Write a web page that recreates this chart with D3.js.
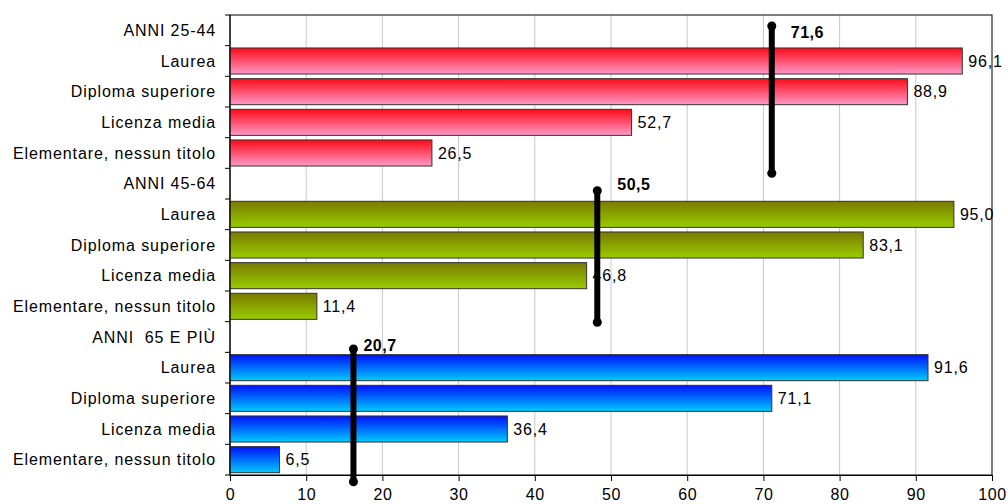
<!DOCTYPE html>
<html><head><meta charset="utf-8">
<script src="https://cdn.jsdelivr.net/npm/d3@7"></script>
<style>body{margin:0;background:#fff}svg{display:block}text{font-family:"Liberation Sans",Arial,sans-serif}</style>
</head><body><svg id="c" width="1008" height="504"></svg>
<script>
const categories = ["ANNI 25-44","Laurea","Diploma superiore","Licenza media","Elementare, nessun titolo",
  "ANNI 45-64","Laurea","Diploma superiore","Licenza media","Elementare, nessun titolo",
  "ANNI  65 E PIÙ","Laurea","Diploma superiore","Licenza media","Elementare, nessun titolo"];
const values = [null,96.1,88.9,52.7,26.5, null,95.0,83.1,46.8,11.4, null,91.6,71.1,36.4,6.5];
const groups = [0,0,0,0,0, 1,1,1,1,1, 2,2,2,2,2];
const xTicks = [0,10,20,30,40,50,60,70,80,90,100];
// average markers: label value, drawn position, vertical extent in row units
const avgLabels = [71.6, 50.5, 20.7];
const avgPos = [71.1, 48.2, 16.2];
const avgFrom = [0.36, 5.73, 10.89];
const avgTo = [5.16, 10.02, 15.22];
const avgLabelDx = [19, 20, 10];
const avgLabelDy = [6, -6, -4];
const gradColors = [["#ff0a18","#ff99c8"],["#7a7a00","#99cc00"],["#0010ff","#00ccff"]];

const fmt = v => v.toFixed(1).replace(".", ",");
const svg = d3.select("#c");
const m = {l:230, r:16, t:15, b:29};
const W = 1008, H = 504;
const x = d3.scaleLinear().domain([0,100]).range([m.l, W-m.r]);
const idx = d3.range(categories.length);
const y = d3.scaleBand().domain(idx).range([m.t, H-m.b]).paddingInner(0.15).paddingOuter(0.075);
const rowY = d3.scaleLinear().domain([0, categories.length]).range([m.t, H-m.b]);

const defs = svg.append("defs");
gradColors.forEach((c,i)=>{
  const g = defs.append("linearGradient").attr("id","g"+i).attr("x1",0).attr("y1",0).attr("x2",0).attr("y2",1);
  g.append("stop").attr("offset","0%").attr("stop-color",c[0]);
  g.append("stop").attr("offset","100%").attr("stop-color",c[1]);
});

// gridlines
svg.append("g").selectAll("line").data(xTicks.slice(1,-1)).join("line")
  .attr("x1",d=>x(d)).attr("x2",d=>x(d)).attr("y1",m.t).attr("y2",H-m.b)
  .attr("stroke","#c8c8c8").attr("stroke-width",1);

// plot border
svg.append("rect").attr("x",m.l).attr("y",m.t).attr("width",x(100)-m.l).attr("height",H-m.b-m.t)
  .attr("fill","none").attr("stroke","#000").attr("stroke-width",1);

// bars
const data = idx.map(i=>({i, c:categories[i], v:values[i], g:groups[i]}));
svg.append("g").selectAll("rect").data(data.filter(d=>d.v!=null)).join("rect")
  .attr("x",x(0)).attr("y",d=>y(d.i)).attr("width",d=>x(d.v)-x(0)).attr("height",y.bandwidth())
  .attr("fill",d=>`url(#g${d.g})`).attr("stroke","#333").attr("stroke-width",1);

// value labels
svg.append("g").selectAll("text").data(data.filter(d=>d.v!=null)).join("text")
  .attr("x",d=>x(d.v)+6).attr("y",d=>y(d.i)+y.bandwidth()/2).attr("dy","0.36em")
  .attr("font-size",16).attr("letter-spacing","0.8").attr("fill","#000").text(d=>fmt(d.v));

// y axis
const ya = svg.append("g").attr("transform",`translate(${m.l},0)`);
ya.append("line").attr("x1",0).attr("x2",0).attr("y1",m.t).attr("y2",H-m.b).attr("stroke","#000");
ya.selectAll("line.t").data(d3.range(categories.length+1)).join("line").attr("class","t")
  .attr("x1",-5).attr("x2",0).attr("y1",d=>rowY(d)).attr("y2",d=>rowY(d)).attr("stroke","#000");
ya.selectAll("text").data(data).join("text")
  .attr("x",-14).attr("y",d=>rowY(d.i+0.5)).attr("dy","0.36em").attr("text-anchor","end")
  .attr("font-size",16).attr("letter-spacing","0.9").style("white-space","pre").text(d=>d.c);

// x axis
const xa = svg.append("g").attr("transform",`translate(0,${H-m.b})`)
  .call(d3.axisBottom(x).tickValues(xTicks).tickSize(6).tickSizeOuter(0).tickFormat(d3.format("d")));
xa.select(".domain").attr("stroke","#000");
xa.selectAll(".tick line").attr("stroke","#000");
xa.selectAll(".tick text").attr("font-size",16).attr("fill","#000").attr("dy","1.02em")
  .attr("letter-spacing","0.6").style("font-family",'"Liberation Sans",Arial,sans-serif');

// average markers
const avg = avgLabels.map((v,i)=>({v, p:avgPos[i], a:avgFrom[i], b:avgTo[i], dx:avgLabelDx[i], dy:avgLabelDy[i]}));
const ag = svg.append("g");
ag.selectAll("line").data(avg).join("line")
  .attr("x1",d=>x(d.p)).attr("x2",d=>x(d.p)).attr("y1",d=>rowY(d.a)).attr("y2",d=>rowY(d.b))
  .attr("stroke","#000").attr("stroke-width",6);
ag.selectAll("circle.a").data(avg).join("circle").attr("class","a")
  .attr("cx",d=>x(d.p)).attr("cy",d=>rowY(d.a)).attr("r",4.5).attr("fill","#000");
ag.selectAll("circle.b").data(avg).join("circle").attr("class","b")
  .attr("cx",d=>x(d.p)).attr("cy",d=>rowY(d.b)).attr("r",4.5).attr("fill","#000");
ag.selectAll("text").data(avg).join("text")
  .attr("x",d=>x(d.p)+d.dx).attr("y",d=>rowY(d.a)+d.dy).attr("dy","0.36em")
  .attr("font-size",16).attr("font-weight","bold").attr("letter-spacing","0.5").text(d=>fmt(d.v));
</script></body></html>
